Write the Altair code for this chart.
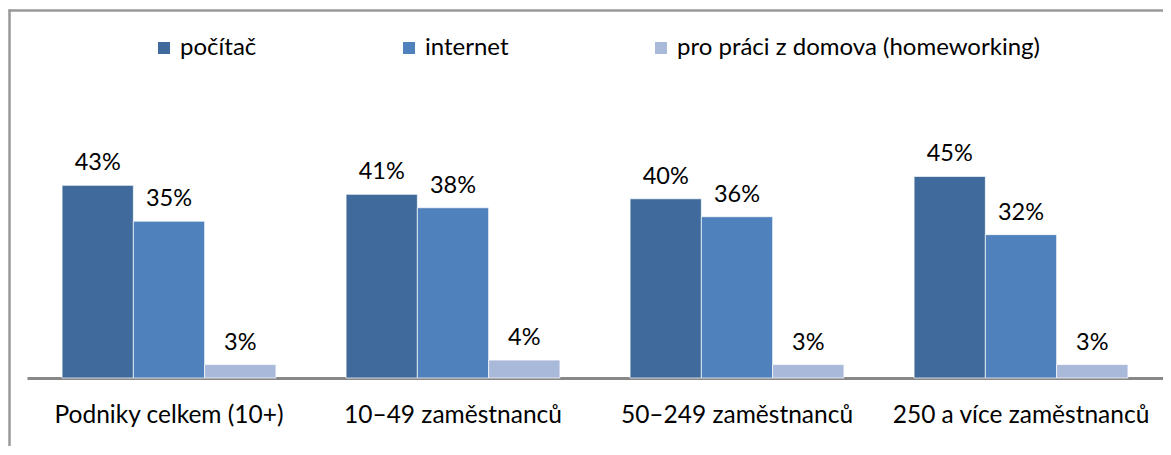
import altair as alt
import pandas as pd

categories = ["Podniky celkem (10+)", "10–49 zaměstnanců", "50–249 zaměstnanců", "250 a více zaměstnanců"]
series = ["počítač", "internet", "pro práci z domova (homeworking)"]
pocitac = [43, 41, 40, 45]
internet = [35, 38, 36, 32]
homeworking = [3, 4, 3, 3]
colors = ["#3F6A9B", "#4F81BD", "#A9B9DA"]

rows = []
for s, vals in zip(series, [pocitac, internet, homeworking]):
    for c, v in zip(categories, vals):
        rows.append({"kategorie": c, "serie": s, "hodnota": v})
df = pd.DataFrame(rows)

FONT = "Lato"

x = alt.X("kategorie:N", sort=categories, title=None,
          scale=alt.Scale(paddingInner=0.247, paddingOuter=0.1235),
          axis=alt.Axis(labelAngle=0, ticks=False, domainColor="#888888", domainWidth=3,
                        labelFont=FONT, labelFontSize=24.5, labelColor="#000000",
                        labelPadding=25, labelLimit=400))
xo = alt.XOffset("serie:N", sort=series, scale=alt.Scale(paddingInner=0, paddingOuter=0))
y = alt.Y("hodnota:Q", scale=alt.Scale(domain=[0, 50]), axis=None)

base = alt.Chart(df)

bars = base.mark_bar(stroke="white", strokeWidth=0.7).encode(
    x=x, xOffset=xo, y=y,
    color=alt.Color("serie:N", sort=series,
                    scale=alt.Scale(domain=series, range=colors),
                    legend=alt.Legend(title=None, orient="none", direction="horizontal",
                                      legendX=125, legendY=-118,
                                      symbolType="square", symbolSize=144, symbolStrokeWidth=0,
                                      labelFont=FONT, labelFontSize=24, labelColor="#000000",
                                      labelOffset=4, columnPadding=140, labelLimit=500)),
)

labels = base.transform_calculate(txt="datum.hodnota + '%'").mark_text(
    baseline="alphabetic", dy=-15, font=FONT, fontSize=23.5, color="#000000"
).encode(x=x, xOffset=xo, y=y, text="txt:N")

border_top = alt.Chart(pd.DataFrame({"a": [0]})).mark_rule(color="#999999", strokeWidth=2.5).encode(
    x=alt.value(-18.5), x2=alt.value(1136), y=alt.value(-143.5))
border_left = alt.Chart(pd.DataFrame({"a": [0]})).mark_rule(color="#999999", strokeWidth=2.5).encode(
    x=alt.value(-17.5), y=alt.value(-144.5), y2=alt.value(300))

chart = alt.layer(bars, labels, border_top, border_left).properties(
    width=1136, height=224,
    autosize=alt.AutoSizeParams(type="none"),
    padding={"left": 19, "top": 146, "right": 0, "bottom": 68},
).configure_view(strokeWidth=0)

chart.save("out.html", embed_options={"renderer": "svg", "actions": False})
